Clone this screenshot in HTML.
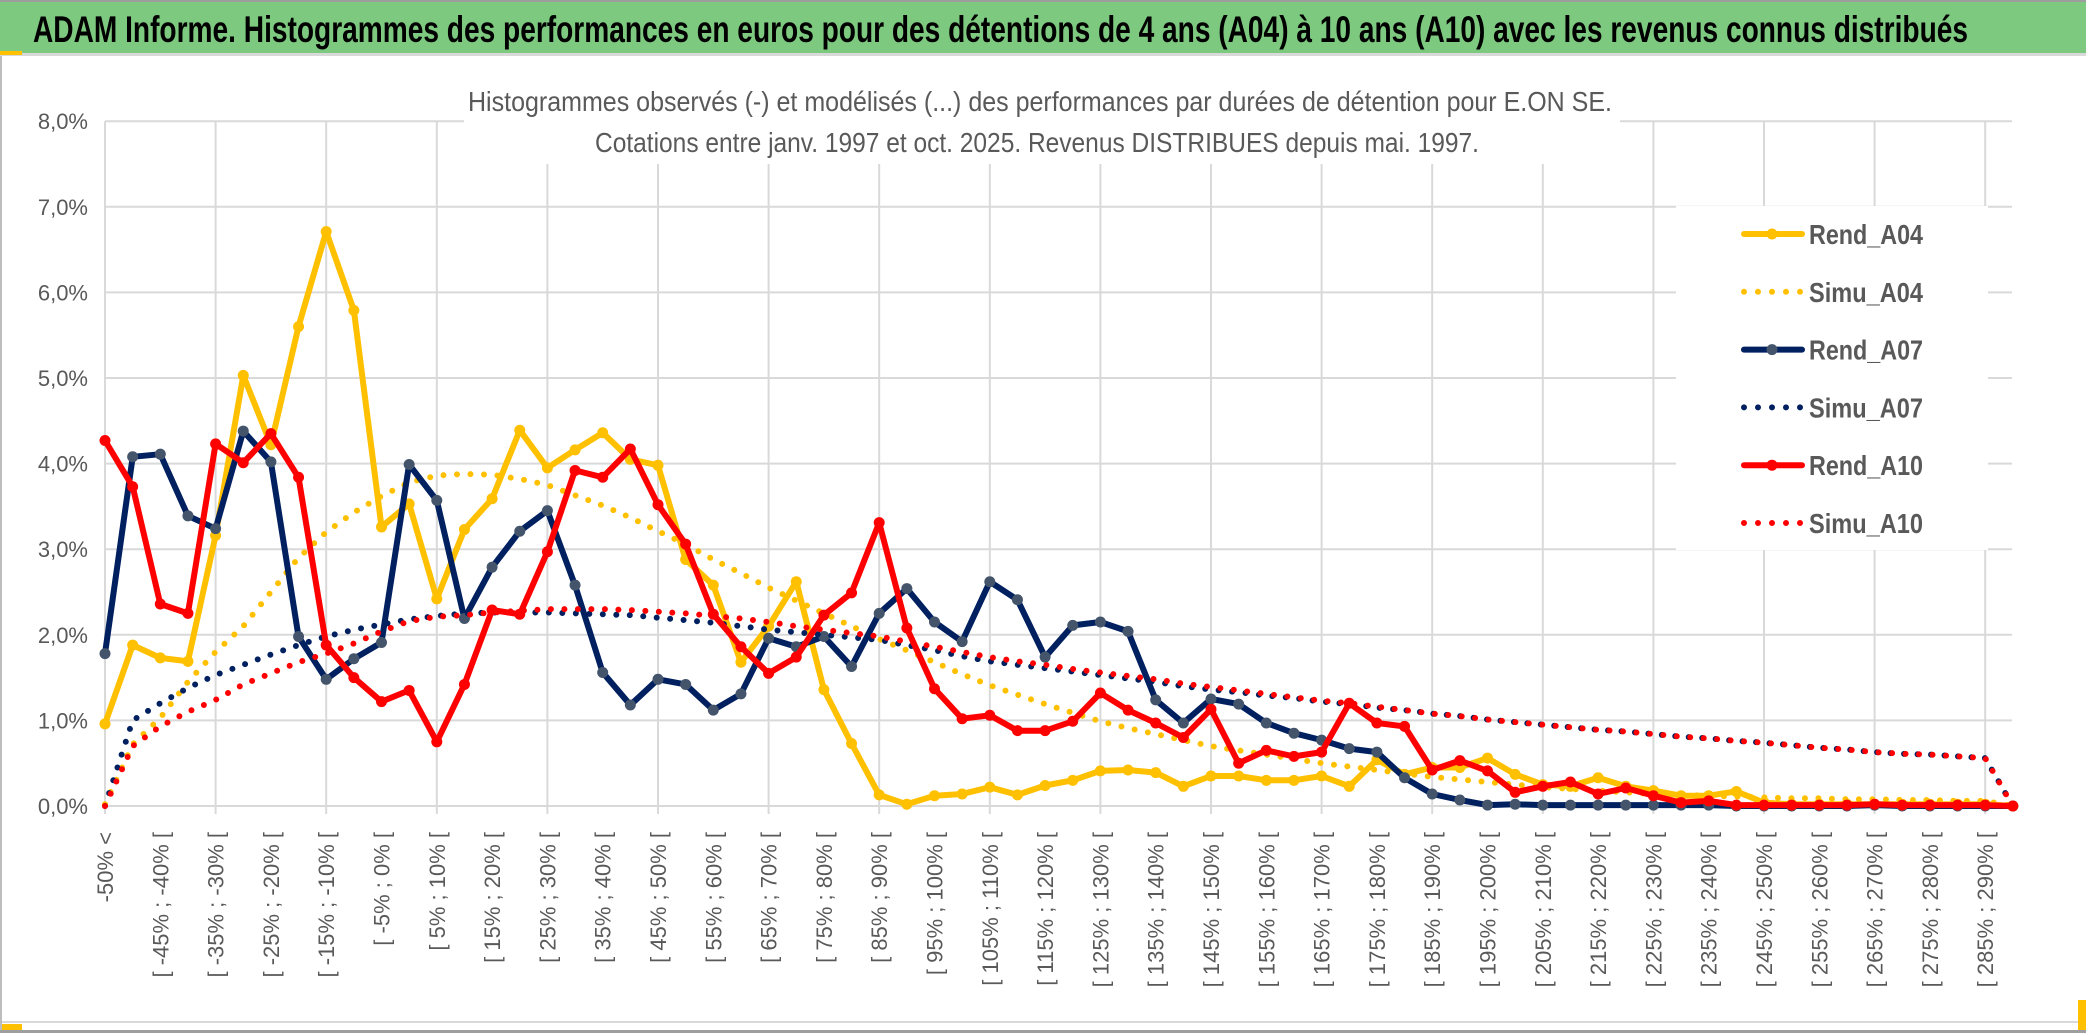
<!DOCTYPE html>
<html><head><meta charset="utf-8"><style>
html,body{margin:0;padding:0;background:#fff;}
svg{display:block;font-family:"Liberation Sans",sans-serif;}
</style></head><body>
<svg id="chart" width="2086" height="1033" viewBox="0 0 2086 1033" xmlns="http://www.w3.org/2000/svg">
<rect x="0" y="0" width="2086" height="1033" fill="#fff"/>
<rect x="0" y="0" width="2086" height="2" fill="#9e9e9e"/>
<rect x="0" y="2" width="2086" height="51" fill="#7dc97f"/>
<rect x="0" y="53" width="2086" height="3" fill="#d9d9d9"/>
<rect x="0" y="51" width="22" height="4" fill="#ffc000"/>
<text x="33" y="42" font-size="37" font-weight="bold" fill="#000" textLength="1935" lengthAdjust="spacingAndGlyphs">ADAM Informe. Histogrammes des performances en euros pour des détentions de 4 ans (A04) à 10 ans (A10) avec les revenus connus distribués</text>
<rect x="0" y="1021" width="2086" height="2" fill="#d9d9d9"/>
<rect x="0" y="1030" width="2086" height="3" fill="#9e9e9e"/>
<rect x="0" y="1024" width="22" height="6" fill="#ffc000"/>
<rect x="2078" y="1000" width="8" height="30" fill="#ffc000"/>
<rect x="0" y="56" width="2" height="974" fill="#bdbdbd"/>
<g id="grid"></g>
<rect x="464" y="78" width="1156" height="86" fill="#fff"/>
<text x="1040" y="111" font-size="28" fill="#595959" text-anchor="middle" textLength="1144" lengthAdjust="spacingAndGlyphs">Histogrammes observés (-) et modélisés (...) des performances par durées de détention pour E.ON SE.</text>
<text x="1037" y="152" font-size="28" fill="#595959" text-anchor="middle" textLength="884" lengthAdjust="spacingAndGlyphs">Cotations entre janv. 1997 et oct. 2025. Revenus DISTRIBUES depuis mai. 1997.</text>
<g id="yaxis"></g>
<g id="xaxis"></g>
<g id="series"></g>
<g id="legend"></g>
</svg>
<script>
const categories = ["-50% <","[ -50% ; -45% [","[ -45% ; -40% [","[ -40% ; -35% [","[ -35% ; -30% [","[ -30% ; -25% [","[ -25% ; -20% [","[ -20% ; -15% [","[ -15% ; -10% [","[ -10% ; -5% [",
"[ -5% ; 0% [","[ 0% ; 5% [","[ 5% ; 10% [","[ 10% ; 15% [","[ 15% ; 20% [","[ 20% ; 25% [","[ 25% ; 30% [","[ 30% ; 35% [","[ 35% ; 40% [","[ 40% ; 45% [",
"[ 45% ; 50% [","[ 50% ; 55% [","[ 55% ; 60% [","[ 60% ; 65% [","[ 65% ; 70% [","[ 70% ; 75% [","[ 75% ; 80% [","[ 80% ; 85% [","[ 85% ; 90% [","[ 90% ; 95% [",
"[ 95% ; 100% [","[ 100% ; 105% [","[ 105% ; 110% [","[ 110% ; 115% [","[ 115% ; 120% [","[ 120% ; 125% [","[ 125% ; 130% [","[ 130% ; 135% [","[ 135% ; 140% [","[ 140% ; 145% [",
"[ 145% ; 150% [","[ 150% ; 155% [","[ 155% ; 160% [","[ 160% ; 165% [","[ 165% ; 170% [","[ 170% ; 175% [","[ 175% ; 180% [","[ 180% ; 185% [","[ 185% ; 190% [","[ 190% ; 195% [",
"[ 195% ; 200% [","[ 200% ; 205% [","[ 205% ; 210% [","[ 210% ; 215% [","[ 215% ; 220% [","[ 220% ; 225% [","[ 225% ; 230% [","[ 230% ; 235% [","[ 235% ; 240% [","[ 240% ; 245% [",
"[ 245% ; 250% [","[ 250% ; 255% [","[ 255% ; 260% [","[ 260% ; 265% [","[ 265% ; 270% [","[ 270% ; 275% [","[ 275% ; 280% [","[ 280% ; 285% [","[ 285% ; 290% [","[ 290% ; 295% ["];
const yTicks = [0,1,2,3,4,5,6,7,8];
const yTickLabels = ["0,0%","1,0%","2,0%","3,0%","4,0%","5,0%","6,0%","7,0%","8,0%"];
const rendA04 = [0.96,1.88,1.73,1.69,3.16,5.03,4.22,5.60,6.71,5.79,3.26,3.53,2.42,3.23,3.59,4.39,3.95,4.16,4.36,4.05,3.98,2.88,2.58,1.68,2.1,2.62,1.36,0.73,0.13,0.02,0.12,0.14,0.22,0.13,0.24,0.30,0.41,0.42,0.39,0.23,0.35,0.35,0.30,0.30,0.35,0.23,0.54,0.37,0.45,0.45,0.56,0.37,0.25,0.23,0.33,0.23,0.18,0.12,0.12,0.17,0.04,0.02,0.02,0.02,0.02,0.02,0.02,0.02,0.02,0];
const simuA04 = [0.02,0.72,1.03,1.45,1.8,2.1,2.5,2.9,3.2,3.43,3.62,3.78,3.86,3.88,3.87,3.82,3.75,3.63,3.51,3.37,3.21,3.06,2.88,2.72,2.55,2.4,2.25,2.1,1.95,1.82,1.68,1.54,1.41,1.3,1.19,1.09,0.99,0.91,0.84,0.77,0.70,0.65,0.6,0.55,0.5,0.46,0.42,0.38,0.34,0.31,0.28,0.25,0.22,0.2,0.18,0.16,0.14,0.13,0.12,0.11,0.1,0.09,0.09,0.08,0.08,0.07,0.07,0.06,0.06,0];
const rendA07 = [1.78,4.08,4.11,3.39,3.24,4.38,4.02,1.98,1.48,1.72,1.91,3.99,3.57,2.19,2.79,3.21,3.45,2.58,1.56,1.18,1.48,1.42,1.12,1.31,1.96,1.86,1.98,1.63,2.25,2.54,2.15,1.92,2.62,2.41,1.74,2.11,2.15,2.04,1.24,0.97,1.25,1.19,0.97,0.85,0.77,0.67,0.63,0.33,0.14,0.07,0.01,0.02,0.01,0.01,0.01,0.01,0.01,0.01,0.01,0,0,0,0,0,0.01,0,0,0,0,0];
const simuA07 = [0,1.0,1.2,1.38,1.53,1.65,1.77,1.88,1.98,2.06,2.12,2.18,2.22,2.25,2.26,2.26,2.26,2.25,2.24,2.23,2.2,2.17,2.14,2.1,2.06,2.03,2.0,1.97,1.94,1.88,1.82,1.75,1.69,1.65,1.61,1.57,1.53,1.49,1.45,1.40,1.36,1.33,1.29,1.26,1.22,1.19,1.15,1.12,1.08,1.05,1.01,0.98,0.95,0.92,0.89,0.87,0.84,0.81,0.79,0.76,0.74,0.71,0.68,0.66,0.63,0.61,0.60,0.58,0.56,0];
const rendA10 = [4.27,3.73,2.36,2.25,4.23,4.01,4.35,3.84,1.88,1.50,1.22,1.35,0.75,1.42,2.29,2.24,2.97,3.92,3.84,4.17,3.52,3.06,2.24,1.86,1.55,1.74,2.23,2.49,3.31,2.08,1.37,1.02,1.06,0.88,0.88,0.99,1.32,1.12,0.97,0.80,1.13,0.50,0.65,0.58,0.63,1.20,0.97,0.93,0.42,0.53,0.41,0.16,0.23,0.28,0.14,0.21,0.12,0.04,0.06,0.01,0.01,0.01,0.01,0.01,0.02,0.01,0.01,0.01,0.01,0];
const simuA10 = [0,0.7,0.93,1.1,1.24,1.42,1.55,1.68,1.78,1.9,2.04,2.16,2.21,2.23,2.26,2.28,2.3,2.3,2.3,2.29,2.27,2.25,2.22,2.19,2.15,2.1,2.06,2.02,1.98,1.92,1.86,1.8,1.74,1.69,1.65,1.6,1.56,1.52,1.48,1.43,1.39,1.35,1.31,1.27,1.23,1.2,1.16,1.12,1.08,1.05,1.01,0.98,0.95,0.92,0.89,0.87,0.84,0.81,0.79,0.76,0.74,0.71,0.68,0.66,0.63,0.61,0.60,0.58,0.56,0];

const NS = "http://www.w3.org/2000/svg";
const X0 = 105, STEP = 27.65, Y0 = 806, YPX = 85.6, XR = 2012;
function xAt(i){ return X0 + i*STEP; }
function yAt(v){ return Y0 - v*YPX; }
function mk(tag, attrs, parent){ const e = document.createElementNS(NS, tag); for (const k in attrs) e.setAttribute(k, attrs[k]); parent.appendChild(e); return e; }

const grid = document.getElementById('grid');
yTicks.forEach((t) => {
  const l = mk('line', {x1:X0, x2:XR, y1:yAt(t), y2:yAt(t), stroke:'#d9d9d9', 'stroke-width':2}, grid);
  
  
});
for (let i = 0; i < categories.length; i += 4) {
  const l = mk('line', {x1:xAt(i), x2:xAt(i), y1:yAt(8), y2:Y0+8, stroke:'#d9d9d9', 'stroke-width':2}, grid);
  
  
}

const yaxis = document.getElementById('yaxis');
yTicks.forEach((t, k) => {
  const tx = mk('text', {x:88, y:yAt(t)+8, 'font-size':22, fill:'#595959', 'text-anchor':'end'}, yaxis);
  tx.textContent = yTickLabels[k];
  
  
});

const xaxis = document.getElementById('xaxis');
categories.forEach((c, i) => {
  if (i % 2 !== 0) return;
  const x = xAt(i) + 8;
  const tx = mk('text', {x:x, y:832, 'font-size':22, fill:'#595959', 'text-anchor':'end', transform:'rotate(-90 '+x+' 832)'}, xaxis);
  tx.textContent = c;
  
  
});

const seriesG = document.getElementById('series');
function pts(arr){ return arr.map((v,i)=>xAt(i).toFixed(1)+','+yAt(v).toFixed(1)).join(' '); }
function solid(arr, color, mcol, name){
  const g = mk('g', {}, seriesG);
  
  
  mk('polyline', {points:pts(arr), fill:'none', stroke:color, 'stroke-width':6, 'stroke-linejoin':'round'}, g);
  arr.forEach((v,i) => {
    const c = mk('circle', {cx:xAt(i), cy:yAt(v), r:5.5, fill:mcol}, g);
    
    
  });
}
function dotted(arr, color, name){
  const p = mk('polyline', {points:pts(arr), fill:'none', stroke:color, 'stroke-width':6, 'stroke-linecap':'round', 'stroke-dasharray':'0 13.5'}, seriesG);
  
  
}
solid(rendA04, '#ffc000', '#ffc000', 'rend-a04-line');
dotted(simuA04, '#ffc000', 'simu-a04-line');
solid(rendA07, '#002060', '#44546a', 'rend-a07-line');
dotted(simuA07, '#002060', 'simu-a07-line');
solid(rendA10, '#ff0000', '#ff0000', 'rend-a10-line');
dotted(simuA10, '#ff0000', 'simu-a10-line');

const legendNames = ["Rend_A04","Simu_A04","Rend_A07","Simu_A07","Rend_A10","Simu_A10"];
const legendColors = ["#ffc000","#ffc000","#002060","#002060","#ff0000","#ff0000"];
const legendMarkers = ["#ffc000","","#44546a","","#ff0000",""];
const lg = document.getElementById('legend');
mk('rect', {x:1676, y:206, width:312, height:344, fill:'#fff'}, lg);
legendNames.forEach((n, k) => {
  const y = 234 + k*57.8;
  const e = mk('g', {}, lg);
  
  
  if (legendMarkers[k]) {
    mk('line', {x1:1744, x2:1802, y1:y, y2:y, stroke:legendColors[k], 'stroke-width':6, 'stroke-linecap':'round'}, e);
    mk('circle', {cx:1772, cy:y, r:5.5, fill:legendMarkers[k]}, e);
  } else {
    mk('line', {x1:1744, x2:1802, y1:y, y2:y, stroke:legendColors[k], 'stroke-width':6, 'stroke-linecap':'round', 'stroke-dasharray':'0 14'}, e);
  }
  const t = mk('text', {x:1809, y:y+10, 'font-size':28, 'font-weight':'bold', fill:'#595959', textLength:114, lengthAdjust:'spacingAndGlyphs'}, e);
  t.textContent = n;
});
</script>
</body></html>
